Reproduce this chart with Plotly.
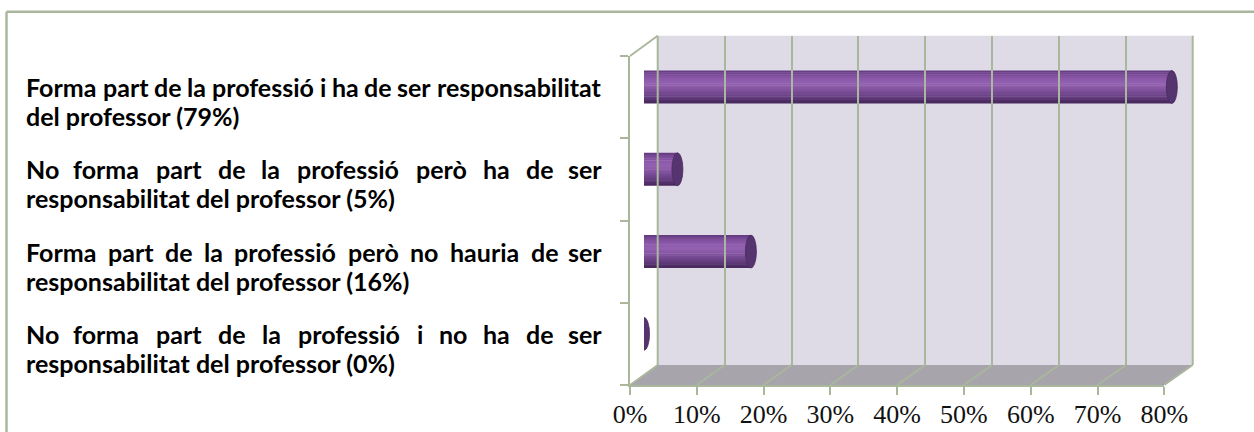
import math
import plotly.graph_objects as go

# ---------------- data ----------------
label_lines = [
    ["Forma part de la professió i ha de ser responsabilitat", "del professor (79%)"],
    ["No forma part de la professió però ha de ser", "responsabilitat del professor (5%)"],
    ["Forma part de la professió però no hauria de ser", "responsabilitat del professor (16%)"],
    ["No forma part de la professió i no ha de ser", "responsabilitat del professor (0%)"],
]
categories = [" ".join(l) for l in label_lines]
values = [79, 5, 16, 0]
tick_values = [0, 10, 20, 30, 40, 50, 60, 70, 80]
tick_labels = ["0%", "10%", "20%", "30%", "40%", "50%", "60%", "70%", "80%"]
x_max = 80

# ---------------- geometry / style ----------------
W, H = 1254, 432
def px(x):
    return x / W
def py(y):
    return 1 - y / H

FRONT_X0, FRONT_X1 = 630.0, 1164.3
BACK_X0, BACK_X1 = 657.7, 1192.7
FRONT_Y0, FRONT_Y1 = 56.0, 385.0
BACK_Y0, BACK_Y1 = 35.7, 365.0
MID_X0, MID_X1 = 644.0, 1178.5
MID_Y0, MID_Y1 = 45.85, 375.0

GRID = "#a9b89d"
WALL = "#dfdbe6"
FLOOR = "#a7a4ab"
CAP = "#55346f"
LABEL_FONT = "Lato"
LABEL_SIZE = 25
TICK_FONT = "Liberation Serif"

def front_x(v):
    return FRONT_X0 + (FRONT_X1 - FRONT_X0) * v / x_max
def back_x(v):
    return BACK_X0 + (BACK_X1 - BACK_X0) * v / x_max

fig = go.Figure()

# cylinder shading strips (top -> bottom)
stops = [(0.00, (0x5e, 0x37, 0x79)), (0.08, (0x76, 0x48, 0x93)), (0.25, (0x8c, 0x59, 0xaa)),
         (0.40, (0x93, 0x61, 0xb1)), (0.55, (0x86, 0x55, 0xa3)), (0.72, (0x70, 0x45, 0x8c)),
         (0.88, (0x59, 0x35, 0x72)), (1.00, (0x45, 0x27, 0x59))]
def shade(t):
    for (t0, c0), (t1, c1) in zip(stops[:-1], stops[1:]):
        if t0 <= t <= t1:
            f = (t - t0) / (t1 - t0)
            return "rgb(%d,%d,%d)" % tuple(round(a + (b - a) * f) for a, b in zip(c0, c1))
    return "rgb(70,40,90)"

N = 18
h = 0.2                     # half thickness in category units
r = 5.5 * x_max / (MID_X1 - MID_X0)   # cap radius in value units
sw = 2 * h / N
for k in range(N):
    t = (k + 0.5) / N
    tt = 2 * t - 1
    dx = r * math.sqrt(max(0.0, 1 - tt * tt))
    fig.add_trace(go.Bar(
        y=categories, x=[v + dx for v in values], base=[-dx] * len(values),
        orientation="h", offset=-h + k * sw, width=sw * (1.25 if k < N - 1 else 1.0),
        marker=dict(color=shade(t), line=dict(width=0)),
        showlegend=False, hoverinfo="skip", xaxis="x", yaxis="y"))

# dummy traces so that the frame subplots exist
fig.add_trace(go.Scatter(x=[None], y=[None], xaxis="x2", yaxis="y2", showlegend=False, hoverinfo="skip"))
fig.add_trace(go.Scatter(x=[None], y=[None], xaxis="x3", yaxis="y3", showlegend=False, hoverinfo="skip"))

shapes = []
# outer border
shapes.append(dict(type="line", xref="paper", yref="paper", x0=px(6.5), x1=1.0, y0=py(11.8), y1=py(11.8),
                   line=dict(color=GRID, width=2.5)))
shapes.append(dict(type="line", xref="paper", yref="paper", x0=px(6.5), x1=px(6.5), y0=py(11.8), y1=0,
                   line=dict(color=GRID, width=2.5)))
# back wall
shapes.append(dict(type="rect", xref="x2 domain", yref="y2 domain", x0=0, x1=1, y0=0, y1=1,
                   fillcolor=WALL, line=dict(width=0), layer="below"))
# floor
shapes.append(dict(type="path", xref="paper", yref="paper",
                   path="M %f,%f L %f,%f L %f,%f L %f,%f Z" % (
                       px(FRONT_X0), py(FRONT_Y1), px(FRONT_X1), py(FRONT_Y1),
                       px(BACK_X1), py(BACK_Y1), px(BACK_X0), py(BACK_Y1)),
                   fillcolor=FLOOR, line=dict(width=0), layer="below"))
for v in tick_values:
    shapes.append(dict(type="line", xref="paper", yref="paper",
                       x0=px(front_x(v)), y0=py(FRONT_Y1), x1=px(back_x(v)), y1=py(BACK_Y1),
                       line=dict(color=GRID, width=1.8)))
# back wall edges
for v in (0, x_max):
    shapes.append(dict(type="line", xref="paper", yref="paper",
                       x0=px(back_x(v)), y0=py(BACK_Y1), x1=px(back_x(v)), y1=py(BACK_Y0),
                       line=dict(color=GRID, width=2)))
# side wall top edge
shapes.append(dict(type="line", xref="paper", yref="paper",
                   x0=px(FRONT_X0), y0=py(FRONT_Y0), x1=px(BACK_X0), y1=py(BACK_Y0),
                   line=dict(color=GRID, width=2)))
# right end caps of cylinders
for i, v in enumerate(values):
    shapes.append(dict(type="circle", xref="x", yref="y", x0=v - r, x1=v + r, y0=i - h, y1=i + h,
                       fillcolor=CAP, line=dict(color="#4a2c60", width=0.8), layer="above"))

# category labels (justified first line)
cw = {'a': .528, 'b': .578, 'c': .482, 'd': .578, 'e': .542, 'f': .349, 'g': .521, 'h': .578, 'i': .262,
      'j': .262, 'k': .546, 'l': .262, 'm': .868, 'n': .578, 'o': .574, 'p': .574, 'q': .578, 'r': .395,
      's': .441, 't': .376, 'u': .578, 'v': .547, 'w': .812, 'x': .529, 'y': .546, 'z': .47, 'F': .566,
      'N': .735, '(': .32, ')': .32, '%': .79, 'ó': .574, 'ò': .574}
def wlen(s):
    return sum(cw.get(c, .58) for c in s) * LABEL_SIZE

L_EDGE, R_EDGE = 24.0, 604.0
LINE_GAP = 29
annotations = []
font = dict(family=LABEL_FONT, size=LABEL_SIZE, color="#000000", weight="bold")
for i, lines in enumerate(label_lines):
    words = lines[0].split()
    widths = [wlen(w) for w in words]
    gap = (R_EDGE - L_EDGE - sum(widths)) / (len(words) - 1)
    pos = L_EDGE
    for j, (w, wd) in enumerate(zip(words, widths)):
        if j == 0:
            xx, anc = L_EDGE, "left"
        elif j == len(words) - 1:
            xx, anc = R_EDGE, "right"
        else:
            xx, anc = pos + wd / 2, "center"
        annotations.append(dict(text="<b>%s</b>" % w, xref="paper", yref="y", x=px(xx), y=i,
                                xanchor=anc, yanchor="middle", showarrow=False, font=font))
        pos += wd + gap
    annotations.append(dict(text="<b>%s</b>" % lines[1], xref="paper", yref="y", x=px(L_EDGE), y=i,
                            yshift=-LINE_GAP, xanchor="left", yanchor="middle", showarrow=False, font=font))

fig.update_layout(
    width=W, height=H, autosize=False,
    margin=dict(l=0, r=0, t=0, b=0, pad=0, autoexpand=False),
    paper_bgcolor="white", plot_bgcolor="rgba(0,0,0,0)",
    barmode="overlay", showlegend=False,
    shapes=shapes, annotations=annotations,
    xaxis=dict(domain=[px(MID_X0), px(MID_X1)], range=[0, x_max], visible=False, anchor="y",
               automargin=False),
    yaxis=dict(domain=[py(MID_Y1), py(MID_Y0)], type="category", categoryorder="array",
               categoryarray=categories, range=[len(categories) - 0.5, -0.5], visible=False, anchor="x",
               automargin=False),
    xaxis2=dict(domain=[px(BACK_X0), px(BACK_X1)], range=[-0.05, x_max + 0.05], anchor="y2",
                showgrid=True, gridcolor=GRID, gridwidth=2, tickvals=tick_values,
                showticklabels=False, ticks="", zeroline=False, showline=False, automargin=False),
    yaxis2=dict(domain=[py(BACK_Y1), py(BACK_Y0)], range=[0, 1], anchor="x2", visible=False,
                automargin=False),
    xaxis3=dict(domain=[px(FRONT_X0), px(FRONT_X1)], range=[0, x_max], anchor="y3",
                tickvals=tick_values, ticktext=tick_labels, ticks="outside", ticklen=8,
                tickwidth=2, tickcolor=GRID, showline=True, linecolor=GRID, linewidth=2,
                showgrid=False, zeroline=False, automargin=False, ticklabelstandoff=-3,
                tickfont=dict(family=TICK_FONT, size=26, color="#111111")),
    yaxis3=dict(domain=[py(FRONT_Y1), py(FRONT_Y0)], range=[0, len(categories)], anchor="x3",
                tickvals=list(range(len(categories) + 1)), ticks="outside", ticklen=8, tickwidth=2,
                tickcolor=GRID, showline=True, linecolor=GRID, linewidth=2, showticklabels=False,
                showgrid=False, zeroline=False, automargin=False),
)

fig.write_html("out.html", config={"displayModeBar": False},
               post_script="document.body.style.margin='0px';document.body.style.overflow='hidden';")
